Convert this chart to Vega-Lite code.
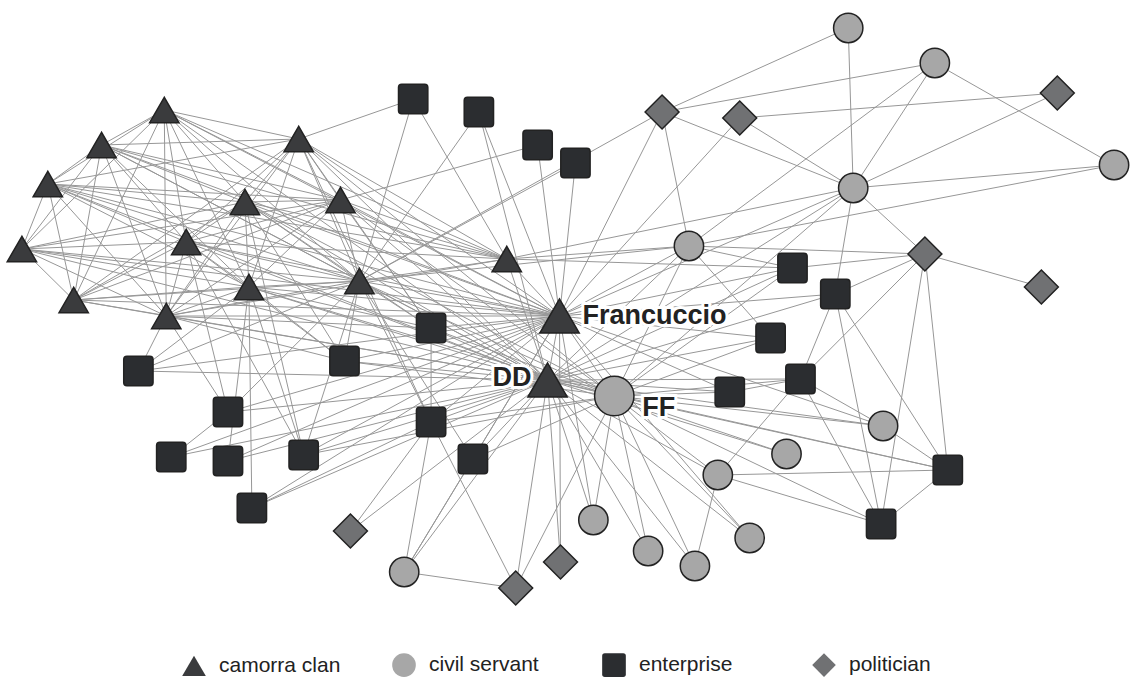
{
  "$schema": "https://vega.github.io/schema/vega-lite/v6.json",
  "width": 1132,
  "height": 677,
  "autosize": {"type": "fit", "contains": "padding"},
  "padding": 0,
  "background": "white",
  "config": {
    "view": {"stroke": null},
    "legend": {
      "orient": "none",
      "legendX": 181,
      "legendY": 652,
      "direction": "horizontal",
      "labelFontSize": 21,
      "labelFont": "Liberation Sans",
      "labelColor": "#222222",
      "symbolSize": 560,
      "symbolStrokeColor": "#222222",
      "symbolStrokeWidth": 1.5,
      "labelOffset": 12,
      "columnPadding": 48,
      "gridAlign": "all",
      "padding": 0
    }
  },
  "datasets": {
    "nodes": [
      {"id": "T1", "x": 165, "y": 110, "type": "camorra clan"},
      {"id": "T2", "x": 102, "y": 145, "type": "camorra clan"},
      {"id": "T3", "x": 48, "y": 184, "type": "camorra clan"},
      {"id": "T4", "x": 22, "y": 249, "type": "camorra clan"},
      {"id": "T5", "x": 74, "y": 300, "type": "camorra clan"},
      {"id": "T6", "x": 300, "y": 139, "type": "camorra clan"},
      {"id": "T7", "x": 246, "y": 202, "type": "camorra clan"},
      {"id": "T8", "x": 342, "y": 200, "type": "camorra clan"},
      {"id": "T9", "x": 187, "y": 242, "type": "camorra clan"},
      {"id": "T10", "x": 250, "y": 287, "type": "camorra clan"},
      {"id": "T11", "x": 361, "y": 281, "type": "camorra clan"},
      {"id": "T12", "x": 167, "y": 316, "type": "camorra clan"},
      {"id": "T13", "x": 509, "y": 259, "type": "camorra clan"},
      {"id": "F", "x": 562, "y": 316, "type": "camorra clan", "label": "Francuccio"},
      {"id": "D", "x": 550, "y": 380, "type": "camorra clan", "label": "DD"},
      {"id": "S1", "x": 415, "y": 99, "type": "enterprise"},
      {"id": "S2", "x": 481, "y": 112, "type": "enterprise"},
      {"id": "S3", "x": 540, "y": 145, "type": "enterprise"},
      {"id": "S4", "x": 578, "y": 163, "type": "enterprise"},
      {"id": "S5", "x": 433, "y": 328, "type": "enterprise"},
      {"id": "S6", "x": 346, "y": 361, "type": "enterprise"},
      {"id": "S7", "x": 139, "y": 371, "type": "enterprise"},
      {"id": "S8", "x": 229, "y": 412, "type": "enterprise"},
      {"id": "S9", "x": 172, "y": 457, "type": "enterprise"},
      {"id": "S10", "x": 229, "y": 461, "type": "enterprise"},
      {"id": "S11", "x": 305, "y": 455, "type": "enterprise"},
      {"id": "S12", "x": 433, "y": 422, "type": "enterprise"},
      {"id": "S13", "x": 475, "y": 459, "type": "enterprise"},
      {"id": "S14", "x": 253, "y": 508, "type": "enterprise"},
      {"id": "S15", "x": 796, "y": 268, "type": "enterprise"},
      {"id": "S16", "x": 839, "y": 294, "type": "enterprise"},
      {"id": "S17", "x": 774, "y": 338, "type": "enterprise"},
      {"id": "S18", "x": 804, "y": 379, "type": "enterprise"},
      {"id": "S19", "x": 733, "y": 392, "type": "enterprise"},
      {"id": "S20", "x": 952, "y": 470, "type": "enterprise"},
      {"id": "S21", "x": 885, "y": 524, "type": "enterprise"},
      {"id": "C1", "x": 852, "y": 28, "type": "civil servant"},
      {"id": "C2", "x": 939, "y": 63, "type": "civil servant"},
      {"id": "C3", "x": 1119, "y": 165, "type": "civil servant"},
      {"id": "C4", "x": 857, "y": 188, "type": "civil servant"},
      {"id": "C5", "x": 692, "y": 246, "type": "civil servant"},
      {"id": "FF", "x": 617, "y": 396, "type": "civil servant", "label": "FF"},
      {"id": "C7", "x": 887, "y": 426, "type": "civil servant"},
      {"id": "C8", "x": 790, "y": 454, "type": "civil servant"},
      {"id": "C9", "x": 721, "y": 475, "type": "civil servant"},
      {"id": "C10", "x": 596, "y": 520, "type": "civil servant"},
      {"id": "C11", "x": 651, "y": 551, "type": "civil servant"},
      {"id": "C12", "x": 698, "y": 566, "type": "civil servant"},
      {"id": "C13", "x": 753, "y": 538, "type": "civil servant"},
      {"id": "C14", "x": 406, "y": 572, "type": "civil servant"},
      {"id": "P1", "x": 665, "y": 112, "type": "politician"},
      {"id": "P2", "x": 743, "y": 118, "type": "politician"},
      {"id": "P3", "x": 1062, "y": 93, "type": "politician"},
      {"id": "P4", "x": 929, "y": 254, "type": "politician"},
      {"id": "P5", "x": 1046, "y": 287, "type": "politician"},
      {"id": "P6", "x": 352, "y": 531, "type": "politician"},
      {"id": "P7", "x": 563, "y": 562, "type": "politician"},
      {"id": "P8", "x": 518, "y": 588, "type": "politician"}
    ],
    "edges": [
      {"s":"T1","t":"T2"},{"s":"T1","t":"T3"},{"s":"T1","t":"T4"},{"s":"T1","t":"T5"},{"s":"T1","t":"T6"},{"s":"T1","t":"T7"},{"s":"T1","t":"T8"},{"s":"T1","t":"T9"},{"s":"T1","t":"T10"},{"s":"T1","t":"T11"},{"s":"T1","t":"T12"},
      {"s":"T2","t":"T3"},{"s":"T2","t":"T4"},{"s":"T2","t":"T5"},{"s":"T2","t":"T6"},{"s":"T2","t":"T7"},{"s":"T2","t":"T8"},{"s":"T2","t":"T9"},{"s":"T2","t":"T10"},{"s":"T2","t":"T11"},{"s":"T2","t":"T12"},
      {"s":"T3","t":"T4"},{"s":"T3","t":"T5"},{"s":"T3","t":"T6"},{"s":"T3","t":"T7"},{"s":"T3","t":"T8"},{"s":"T3","t":"T9"},{"s":"T3","t":"T10"},{"s":"T3","t":"T11"},{"s":"T3","t":"T12"},
      {"s":"T4","t":"T5"},{"s":"T4","t":"T7"},{"s":"T4","t":"T8"},{"s":"T4","t":"T9"},{"s":"T4","t":"T10"},{"s":"T4","t":"T11"},{"s":"T4","t":"T12"},
      {"s":"T5","t":"T6"},{"s":"T5","t":"T7"},{"s":"T5","t":"T8"},{"s":"T5","t":"T9"},{"s":"T5","t":"T10"},{"s":"T5","t":"T11"},{"s":"T5","t":"T12"},
      {"s":"T6","t":"T7"},{"s":"T6","t":"T8"},{"s":"T6","t":"T9"},{"s":"T6","t":"T10"},{"s":"T6","t":"T11"},{"s":"T6","t":"T12"},
      {"s":"T7","t":"T8"},{"s":"T7","t":"T9"},{"s":"T7","t":"T10"},{"s":"T7","t":"T11"},{"s":"T7","t":"T12"},
      {"s":"T8","t":"T9"},{"s":"T8","t":"T10"},{"s":"T8","t":"T11"},{"s":"T8","t":"T12"},
      {"s":"T9","t":"T10"},{"s":"T9","t":"T11"},{"s":"T9","t":"T12"},
      {"s":"T10","t":"T11"},{"s":"T10","t":"T12"},{"s":"T11","t":"T12"},
      {"s":"T1","t":"F"},{"s":"T2","t":"F"},{"s":"T3","t":"F"},{"s":"T4","t":"F"},{"s":"T5","t":"F"},{"s":"T6","t":"F"},{"s":"T7","t":"F"},{"s":"T8","t":"F"},{"s":"T9","t":"F"},{"s":"T10","t":"F"},{"s":"T11","t":"F"},{"s":"T12","t":"F"},{"s":"T13","t":"F"},
      {"s":"T1","t":"D"},{"s":"T2","t":"D"},{"s":"T3","t":"D"},{"s":"T4","t":"D"},{"s":"T5","t":"D"},{"s":"T6","t":"D"},{"s":"T7","t":"D"},{"s":"T8","t":"D"},{"s":"T9","t":"D"},{"s":"T10","t":"D"},{"s":"T11","t":"D"},{"s":"T12","t":"D"},{"s":"T13","t":"D"},
      {"s":"T13","t":"T1"},{"s":"T13","t":"T2"},{"s":"T13","t":"T3"},{"s":"T13","t":"T6"},{"s":"T13","t":"T7"},{"s":"T13","t":"T8"},{"s":"T13","t":"T9"},{"s":"T13","t":"T11"},{"s":"T13","t":"T12"},
      {"s":"FF","t":"T6"},{"s":"FF","t":"T7"},{"s":"FF","t":"T8"},{"s":"FF","t":"T10"},{"s":"FF","t":"T11"},
      {"s":"S1","t":"T11"},{"s":"S1","t":"T13"},{"s":"S1","t":"T6"},
      {"s":"S2","t":"T11"},{"s":"S2","t":"F"},{"s":"S2","t":"D"},
      {"s":"S3","t":"F"},{"s":"S3","t":"T8"},
      {"s":"S4","t":"F"},{"s":"S4","t":"T11"},
      {"s":"S5","t":"T6"},{"s":"S5","t":"T7"},{"s":"S5","t":"T8"},{"s":"S5","t":"T10"},{"s":"S5","t":"T11"},{"s":"S5","t":"T12"},{"s":"S5","t":"F"},{"s":"S5","t":"D"},{"s":"S5","t":"FF"},{"s":"S5","t":"S12"},
      {"s":"S6","t":"T7"},{"s":"S6","t":"T9"},{"s":"S6","t":"T10"},{"s":"S6","t":"T11"},{"s":"S6","t":"T12"},{"s":"S6","t":"F"},{"s":"S6","t":"D"},{"s":"S6","t":"FF"},
      {"s":"S7","t":"T10"},{"s":"S7","t":"T11"},{"s":"S7","t":"T12"},{"s":"S7","t":"F"},{"s":"S7","t":"D"},
      {"s":"S8","t":"T9"},{"s":"S8","t":"T11"},{"s":"S8","t":"T12"},{"s":"S8","t":"S9"},{"s":"S8","t":"F"},{"s":"S8","t":"D"},
      {"s":"S9","t":"F"},{"s":"S9","t":"D"},
      {"s":"S10","t":"T10"},{"s":"S10","t":"F"},{"s":"S10","t":"D"},
      {"s":"S11","t":"T7"},{"s":"S11","t":"T9"},{"s":"S11","t":"T10"},{"s":"S11","t":"T11"},{"s":"S11","t":"F"},{"s":"S11","t":"D"},{"s":"S11","t":"FF"},
      {"s":"S12","t":"T6"},{"s":"S12","t":"T11"},{"s":"S12","t":"F"},{"s":"S12","t":"D"},{"s":"S12","t":"FF"},{"s":"S12","t":"C14"},{"s":"S12","t":"P8"},{"s":"S12","t":"P6"},{"s":"S12","t":"S14"},
      {"s":"S13","t":"T11"},{"s":"S13","t":"F"},{"s":"S13","t":"D"},{"s":"S13","t":"FF"},{"s":"S13","t":"C14"},
      {"s":"S14","t":"T10"},{"s":"S14","t":"F"},{"s":"S14","t":"D"},
      {"s":"S15","t":"T13"},{"s":"S15","t":"F"},{"s":"S15","t":"D"},{"s":"S15","t":"FF"},{"s":"S15","t":"C5"},{"s":"S15","t":"P4"},
      {"s":"S16","t":"C4"},{"s":"S16","t":"P4"},{"s":"S16","t":"S18"},{"s":"S16","t":"S20"},{"s":"S16","t":"S21"},{"s":"S16","t":"F"},{"s":"S16","t":"D"},
      {"s":"S17","t":"F"},{"s":"S17","t":"D"},{"s":"S17","t":"FF"},{"s":"S17","t":"C5"},
      {"s":"S18","t":"FF"},{"s":"S18","t":"D"},{"s":"S18","t":"P4"},{"s":"S18","t":"C7"},{"s":"S18","t":"C9"},{"s":"S18","t":"S21"},{"s":"S18","t":"S19"},
      {"s":"S19","t":"F"},{"s":"S19","t":"D"},{"s":"S19","t":"FF"},
      {"s":"S20","t":"FF"},{"s":"S20","t":"D"},{"s":"S20","t":"C7"},{"s":"S20","t":"C9"},{"s":"S20","t":"S21"},{"s":"S20","t":"P4"},
      {"s":"S21","t":"FF"},{"s":"S21","t":"C9"},{"s":"S21","t":"P4"},
      {"s":"C1","t":"P1"},{"s":"C1","t":"C4"},
      {"s":"C2","t":"P1"},{"s":"C2","t":"C4"},{"s":"C2","t":"C5"},{"s":"C2","t":"C3"},
      {"s":"C3","t":"C4"},{"s":"C3","t":"C5"},
      {"s":"C4","t":"P1"},{"s":"C4","t":"P2"},{"s":"C4","t":"P3"},{"s":"C4","t":"P4"},{"s":"C4","t":"F"},{"s":"C4","t":"D"},{"s":"C4","t":"FF"},{"s":"C4","t":"T13"},
      {"s":"C5","t":"F"},{"s":"C5","t":"D"},{"s":"C5","t":"FF"},{"s":"C5","t":"T13"},{"s":"C5","t":"P1"},{"s":"C5","t":"P4"},{"s":"C5","t":"T11"},
      {"s":"FF","t":"F"},{"s":"FF","t":"D"},{"s":"FF","t":"C7"},{"s":"FF","t":"C8"},{"s":"FF","t":"C9"},{"s":"FF","t":"C10"},{"s":"FF","t":"C11"},{"s":"FF","t":"C12"},{"s":"FF","t":"C13"},{"s":"FF","t":"P8"},
      {"s":"C7","t":"D"},{"s":"C7","t":"F"},
      {"s":"C8","t":"D"},
      {"s":"C9","t":"D"},{"s":"C9","t":"C12"},
      {"s":"C10","t":"D"},{"s":"C10","t":"F"},
      {"s":"C11","t":"D"},
      {"s":"C12","t":"D"},
      {"s":"C13","t":"D"},{"s":"C13","t":"F"},
      {"s":"C14","t":"D"},{"s":"C14","t":"F"},{"s":"C14","t":"P8"},
      {"s":"P1","t":"F"},{"s":"P1","t":"T11"},
      {"s":"P2","t":"P3"},{"s":"P2","t":"F"},
      {"s":"P4","t":"P5"},
      {"s":"P6","t":"D"},
      {"s":"P7","t":"D"},{"s":"P7","t":"F"},
      {"s":"P8","t":"D"},
      {"s":"F","t":"D"}
    ]
  },
  "layer": [
    {
      "data": {"name": "edges"},
      "transform": [
        {"lookup": "s", "from": {"data": {"name": "nodes"}, "key": "id", "fields": ["x", "y"]}, "as": ["sx", "sy"]},
        {"lookup": "t", "from": {"data": {"name": "nodes"}, "key": "id", "fields": ["x", "y"]}, "as": ["tx", "ty"]}
      ],
      "mark": {"type": "rule", "color": "#979797", "strokeWidth": 1},
      "encoding": {
        "x": {"field": "sx", "type": "quantitative", "scale": {"domain": [0, 1132], "nice": false, "zero": false}, "axis": null},
        "y": {"field": "sy", "type": "quantitative", "scale": {"domain": [0, 677], "nice": false, "zero": false, "reverse": true}, "axis": null},
        "x2": {"field": "tx"},
        "y2": {"field": "ty"}
      }
    },
    {
      "data": {"name": "nodes"},
      "transform": [{"filter": "!datum.label && datum.type != 'politician'"}],
      "mark": {"type": "point", "filled": true, "strokeWidth": 1.5, "opacity": 1, "size": 860},
      "encoding": {
        "x": {"field": "x", "type": "quantitative"},
        "y": {"field": "y", "type": "quantitative"},
        "stroke": {"value": "#222222"},
        "shape": {"field": "type", "type": "nominal", "title": null,
          "scale": {"domain": ["camorra clan", "civil servant", "enterprise", "politician"],
                    "range": ["triangle-up", "circle", "M-0.78,-1L0.78,-1Q1,-1,1,-0.78L1,0.78Q1,1,0.78,1L-0.78,1Q-1,1,-1,0.78L-1,-0.78Q-1,-1,-0.78,-1Z", "diamond"]}},
        "fill": {"field": "type", "type": "nominal", "title": null,
          "scale": {"domain": ["camorra clan", "civil servant", "enterprise", "politician"],
                    "range": ["#3a3b3d", "#a7a7a7", "#2b2d30", "#707173"]}}
      }
    },
    {
      "data": {"name": "nodes"},
      "transform": [{"filter": "datum.type == 'politician'"}],
      "mark": {"type": "point", "filled": true, "strokeWidth": 1.5, "opacity": 1, "size": 1150},
      "encoding": {
        "x": {"field": "x", "type": "quantitative"},
        "y": {"field": "y", "type": "quantitative"},
        "stroke": {"value": "#222222"},
        "shape": {"field": "type", "type": "nominal"},
        "fill": {"field": "type", "type": "nominal"}
      }
    },
    {
      "data": {"name": "nodes"},
      "transform": [{"filter": "datum.label"}],
      "mark": {"type": "point", "filled": true, "strokeWidth": 1.5, "opacity": 1, "size": 1550},
      "encoding": {
        "x": {"field": "x", "type": "quantitative"},
        "y": {"field": "y", "type": "quantitative"},
        "stroke": {"value": "#222222"},
        "shape": {"field": "type", "type": "nominal"},
        "fill": {"field": "type", "type": "nominal"}
      }
    },
    {
      "data": {"name": "nodes"},
      "transform": [{"filter": "datum.label == 'Francuccio'"}],
      "mark": {"type": "text", "align": "left", "baseline": "middle", "dx": 23, "dy": 0, "font": "Liberation Sans", "fontSize": 27, "fontWeight": "bold", "fill": "white", "stroke": "white", "strokeWidth": 6},
      "encoding": {"x": {"field": "x", "type": "quantitative"}, "y": {"field": "y", "type": "quantitative"}, "text": {"field": "label"}}
    },
    {
      "data": {"name": "nodes"},
      "transform": [{"filter": "datum.label == 'Francuccio'"}],
      "mark": {"type": "text", "align": "left", "baseline": "middle", "dx": 23, "dy": 0, "font": "Liberation Sans", "fontSize": 27, "fontWeight": "bold", "fill": "#222222"},
      "encoding": {"x": {"field": "x", "type": "quantitative"}, "y": {"field": "y", "type": "quantitative"}, "text": {"field": "label"}}
    },
    {
      "data": {"name": "nodes"},
      "transform": [{"filter": "datum.label == 'DD'"}],
      "mark": {"type": "text", "align": "right", "baseline": "middle", "dx": -16, "dy": -2, "font": "Liberation Sans", "fontSize": 27, "fontWeight": "bold", "fill": "white", "stroke": "white", "strokeWidth": 6},
      "encoding": {"x": {"field": "x", "type": "quantitative"}, "y": {"field": "y", "type": "quantitative"}, "text": {"field": "label"}}
    },
    {
      "data": {"name": "nodes"},
      "transform": [{"filter": "datum.label == 'DD'"}],
      "mark": {"type": "text", "align": "right", "baseline": "middle", "dx": -16, "dy": -2, "font": "Liberation Sans", "fontSize": 27, "fontWeight": "bold", "fill": "#222222"},
      "encoding": {"x": {"field": "x", "type": "quantitative"}, "y": {"field": "y", "type": "quantitative"}, "text": {"field": "label"}}
    },
    {
      "data": {"name": "nodes"},
      "transform": [{"filter": "datum.label == 'FF'"}],
      "mark": {"type": "text", "align": "left", "baseline": "middle", "dx": 28, "dy": 12, "font": "Liberation Sans", "fontSize": 27, "fontWeight": "bold", "fill": "white", "stroke": "white", "strokeWidth": 6},
      "encoding": {"x": {"field": "x", "type": "quantitative"}, "y": {"field": "y", "type": "quantitative"}, "text": {"field": "label"}}
    },
    {
      "data": {"name": "nodes"},
      "transform": [{"filter": "datum.label == 'FF'"}],
      "mark": {"type": "text", "align": "left", "baseline": "middle", "dx": 28, "dy": 12, "font": "Liberation Sans", "fontSize": 27, "fontWeight": "bold", "fill": "#222222"},
      "encoding": {"x": {"field": "x", "type": "quantitative"}, "y": {"field": "y", "type": "quantitative"}, "text": {"field": "label"}}
    }
  ]
}
